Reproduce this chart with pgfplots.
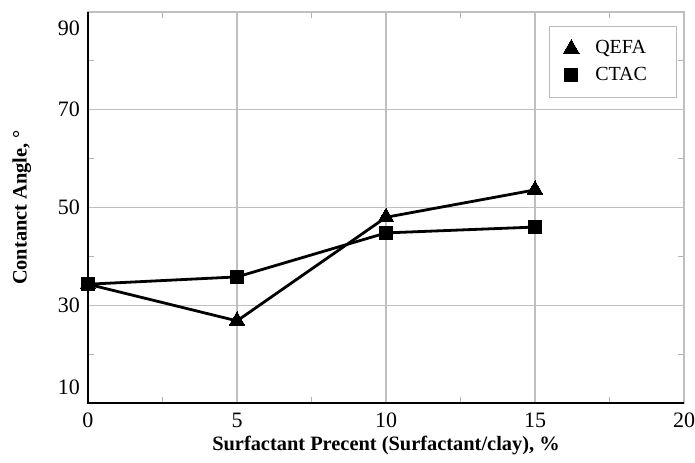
\documentclass[border=0pt]{standalone}
\usepackage{fontspec}
\setmainfont{Liberation Serif}
\usepackage{pgfplots}
\pgfplotsset{compat=1.18}

\begin{document}
\begin{tikzpicture}
\begin{axis}[
  scale only axis,
  width=298pt, height=195.5pt,
  xmin=0, xmax=20, ymin=10, ymax=90,
  clip=false,
  xtick={0,5,10,15,20},
  ytick={30,50,70},
  minor xtick={2.5,7.5,12.5,17.5},
  minor ytick={20,40,60,80},
  extra y ticks={86.7,13.3},
  extra y tick labels={90,10},
  extra y tick style={grid=none, major tick length=0pt},
  xmajorgrids, ymajorgrids,
  major grid style={gray!50, line width=0.6pt},
  major tick length=0pt,
  minor tick length=3pt,
  tick align=inside,
  tick style={gray!60, line width=0.6pt},
  axis line style={gray!50, line width=0.6pt},
  /pgf/number format/assume math mode=true,
  ticklabel style={font=\fontsize{11}{13}\selectfont},
  xticklabel style={anchor=center, yshift=-8.5pt},
  yticklabel style={anchor=east, xshift=-0.5pt},
  xlabel={\textbf{Surfactant Precent (Surfactant/clay), \%}},
  ylabel={\textbf{Contanct Angle, °}},
  label style={font=\fontsize{10.2}{12}\selectfont},
  xlabel style={at={(axis description cs:0.5,-0.11)}, anchor=center},
  ylabel style={at={(axis description cs:-0.111,0.5)}, anchor=center},
  legend style={
    at={(axis description cs:0.988,0.964)}, anchor=north east,
    draw=gray!55, line width=0.6pt,
    inner xsep=7pt, inner ysep=6pt,
    row sep=3pt, column sep=6pt,
    nodes={inner ysep=1pt},
    font=\fontsize{10}{12}\selectfont,
    /tikz/every even column/.append style={text width=31.5pt},
  },
  legend cell align=left,
]
% solid black spines on the left and bottom
\draw[black, line width=1.4pt] (rel axis cs:0,1) -- (rel axis cs:0,0) -- (rel axis cs:1,0);

% QEFA
\addplot[forget plot, black, line width=1.4pt, mark=triangle*, mark size=4.6pt,
  mark options={fill=black, line width=0pt}]
  coordinates {(0,34.3) (5,26.8) (10,48.0) (15,53.6)};
% CTAC
\addplot[forget plot, black, line width=1.4pt, mark=square*, mark size=3.2pt,
  mark options={fill=black, line width=0pt}]
  coordinates {(0,34.3) (5,35.8) (10,44.8) (15,46.0)};

\addlegendimage{only marks, black, mark=triangle*, mark size=4.6pt, mark options={fill=black, line width=0pt}}
\addlegendentry{QEFA}
\addlegendimage{only marks, black, mark=square*, mark size=3.2pt, mark options={fill=black, line width=0pt}}
\addlegendentry{CTAC}
\end{axis}
\pgfresetboundingbox
\path ([shift={(-44pt,-30pt)}]current axis.south west) rectangle ([shift={(5.5pt,6pt)}]current axis.north east);
\end{tikzpicture}
\end{document}
